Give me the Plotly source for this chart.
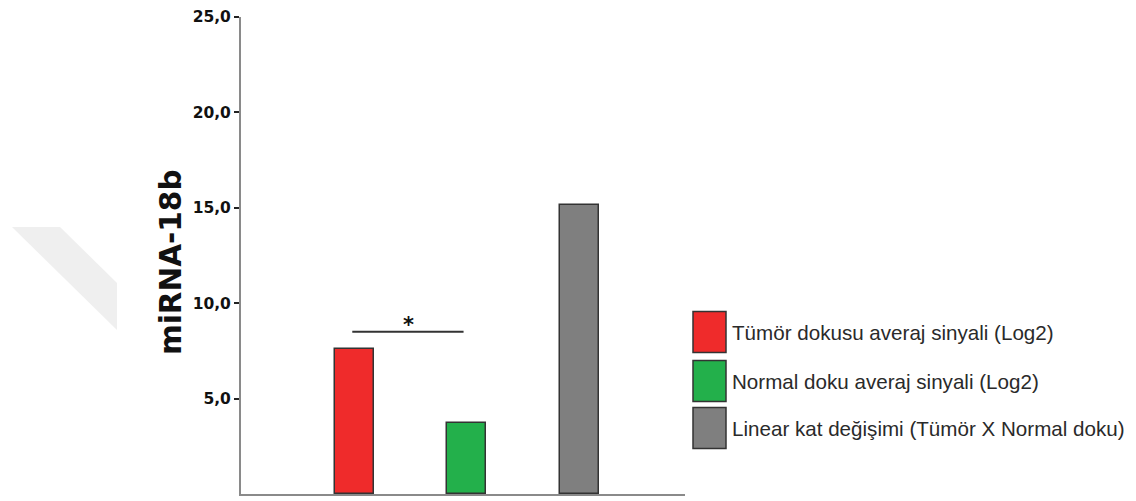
import plotly.graph_objects as go

# ---- data ----
categories = ["Tümör dokusu averaj sinyali (Log2)",
              "Normal doku averaj sinyali (Log2)",
              "Linear kat değişimi (Tümör X Normal doku)"]
values = [7.6, 3.7, 15.15]
bar_colors = ["#ef2b2b", "#23b04b", "#7f7f7f"]
tick_vals = [5, 10, 15, 20, 25]
tick_text = ["5,0", "10,0", "15,0", "20,0", "25,0"]
y_title = "miRNA-18b"
sig_pair = [0, 1]
sig_level = 8.5
sig_label = "*"

# ---- layout geometry (page pixels; page body has an 8px margin) ----
OFF = 8
W, H = 1136 - OFF, 501 - OFF
L, R, T, B = 241, 685, 17, 494
pw, ph = R - L, B - T

def px(x):
    return (x - L) / pw

def py(y):
    return (B - y) / ph

xpos = list(range(len(categories)))

fig = go.Figure()
fig.add_trace(go.Bar(
    x=xpos, y=values, width=0.347,
    marker=dict(color=bar_colors, line=dict(color="#333333", width=1.5)),
    showlegend=False, hoverinfo="skip"))

shapes = []
annotations = []

# faint watermark
shapes.append(dict(type="path", xref="paper", yref="paper",
                   path=f"M {px(12)},{py(227)} L {px(60)},{py(227)} L {px(117)},{py(283)} L {px(117)},{py(330)} Z",
                   fillcolor="#efefef", line=dict(width=0), layer="below"))

# significance bar
shapes.append(dict(type="line", xref="x", yref="y",
                   x0=sig_pair[0] - 0.02, x1=sig_pair[1] - 0.03,
                   y0=sig_level, y1=sig_level,
                   line=dict(color="#333333", width=2)))
annotations.append(dict(x=(sig_pair[0] + sig_pair[1]) / 2 - 0.02, y=sig_level,
                        xref="x", yref="y", text=f"<b>{sig_label}</b>", showarrow=False,
                        yanchor="bottom", yshift=-7,
                        font=dict(family="DejaVu Sans", size=21, color="#111111")))

# y title
annotations.append(dict(x=px(171), y=py(262), xref="paper", yref="paper",
                        text=f"<b>{y_title}</b>", textangle=-90, showarrow=False,
                        xanchor="center", yanchor="middle",
                        font=dict(family="DejaVu Sans", size=29.5, color="#111111")))

# custom legend
row_centers = [332, 381, 428]
for name, col, yc in zip(categories, bar_colors, row_centers):
    shapes.append(dict(type="rect", xref="paper", yref="paper",
                       x0=px(693), x1=px(726), y0=py(yc + 20.5), y1=py(yc - 20.5),
                       fillcolor=col, line=dict(color="#333333", width=1.5)))
    annotations.append(dict(x=px(730), y=py(yc), xref="paper", yref="paper",
                            text=name, showarrow=False, xanchor="left", yanchor="middle",
                            font=dict(family="Liberation Sans, Arial", size=20.6, color="#2a2a2a")))

fig.update_layout(
    width=W, height=H,
    margin=dict(l=L - OFF, r=(1136 - R), t=T - OFF, b=(501 - B), pad=0, autoexpand=False),
    paper_bgcolor="white", plot_bgcolor="white",
    shapes=shapes, annotations=annotations,
    xaxis=dict(range=[-1.01, 2.94], showticklabels=False, ticks="",
               showgrid=False, zeroline=False, showline=True, automargin=False,
               linecolor="#8a8a8a", linewidth=2),
    yaxis=dict(range=[0, 25], tickvals=tick_vals, ticktext=tick_text,
               ticks="outside", ticklen=5, tickwidth=2, tickcolor="#222222",
               ticklabeloverflow="allow", automargin=False,
               showgrid=False, zeroline=False, showline=True,
               linecolor="#8a8a8a", linewidth=2,
               tickfont=dict(family="DejaVu Sans", size=15.5, color="#111111", weight="bold")),
    bargap=0,
)

fig.write_html("out.html")
